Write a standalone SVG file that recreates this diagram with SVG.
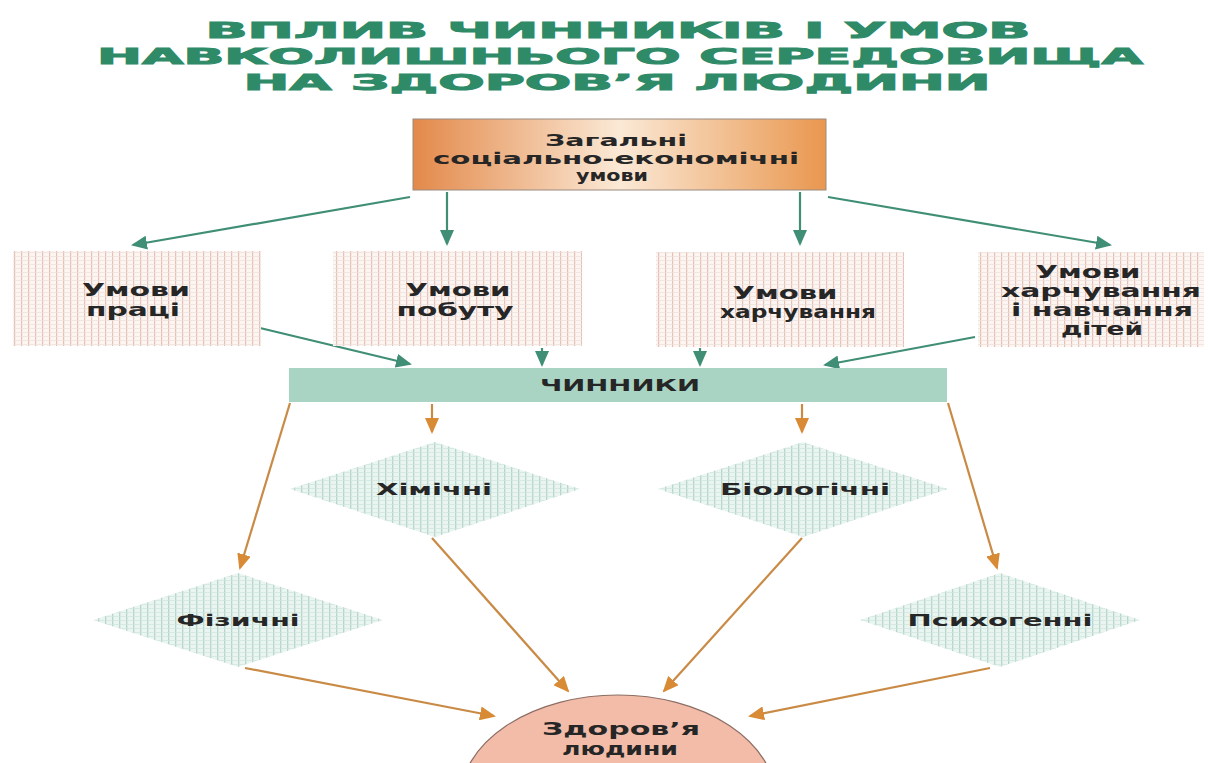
<svg xmlns="http://www.w3.org/2000/svg" width="1208" height="763" viewBox="0 0 1208 763">
  <style>
    .title { font-family: "DejaVu Sans", "Liberation Sans", sans-serif; font-weight: bold; font-size: 22px; fill: #2f8a68; stroke: #2f8a68; stroke-width: 1; text-anchor: middle; }
    .lbl { font-family: "DejaVu Sans", "Liberation Sans", sans-serif; font-weight: bold; fill: #262626; text-anchor: middle; }
    .top { font-size: 15px; }
    .box { font-size: 17px; }
    .dia { font-size: 16px; }
    .g { stroke: #3f8e75; stroke-width: 2.2; fill: none; marker-end: url(#headG); }
    .o { stroke: #c98a45; stroke-width: 2.2; fill: none; marker-end: url(#headO); }
  </style>
  <defs>
    <marker id="headG" markerUnits="userSpaceOnUse" markerWidth="16" markerHeight="14" refX="14" refY="7" orient="auto">
      <path d="M0,0 L16,7 L0,14 z" fill="#3f8e75"/>
    </marker>
    <marker id="headO" markerUnits="userSpaceOnUse" markerWidth="16" markerHeight="14" refX="14" refY="7" orient="auto">
      <path d="M0,0 L16,7 L0,14 z" fill="#d88a35"/>
    </marker>
    <linearGradient id="orangeGrad" x1="0" y1="0" x2="1" y2="0">
      <stop offset="0" stop-color="#e3894a"/>
      <stop offset="0.5" stop-color="#fbe9d6"/>
      <stop offset="1" stop-color="#e9974f"/>
    </linearGradient>
    <pattern id="pinkGrid" width="7" height="4" patternUnits="userSpaceOnUse">
      <rect width="7" height="4" fill="#fcf5f2"/>
      <rect width="1.2" height="4" fill="#e8bfb5"/>
      <rect width="7" height="0.7" fill="#ebe0dc"/>
    </pattern>
    <pattern id="tealGrid" width="7" height="4" patternUnits="userSpaceOnUse">
      <rect width="7" height="4" fill="#eaf5f1"/>
      <rect width="1.3" height="4" fill="#b6d6ca"/>
      <rect width="7" height="0.7" fill="#cfe5dd"/>
    </pattern>
  </defs>

  <!-- heading -->
  <g id="title">
    <text class="title" x="618" y="38" textLength="825" lengthAdjust="spacingAndGlyphs">ВПЛИВ ЧИННИКІВ І УМОВ</text>
    <text class="title" x="620" y="64" textLength="1046" lengthAdjust="spacingAndGlyphs">НАВКОЛИШНЬОГО СЕРЕДОВИЩА</text>
    <text class="title" x="617" y="90" textLength="747" lengthAdjust="spacingAndGlyphs">НА ЗДОРОВ’Я ЛЮДИНИ</text>
  </g>

  <!-- connectors -->
  <g id="connectors">
    <line class="g" x1="410" y1="197" x2="133" y2="245"/>
    <line class="g" x1="447" y1="192" x2="447" y2="244"/>
    <line class="g" x1="800" y1="192" x2="800" y2="244"/>
    <line class="g" x1="828" y1="197" x2="1110" y2="245"/>
    <line class="g" x1="260" y1="328" x2="410" y2="364"/>
    <line class="g" x1="542" y1="348" x2="542" y2="365"/>
    <line class="g" x1="700" y1="348" x2="700" y2="365"/>
    <line class="g" x1="975" y1="337" x2="825" y2="365"/>
    <line class="o" x1="432" y1="404" x2="432" y2="432"/>
    <line class="o" x1="802" y1="404" x2="802" y2="432"/>
    <line class="o" x1="290" y1="403" x2="240" y2="568"/>
    <line class="o" x1="948" y1="403" x2="997" y2="568"/>
    <line class="o" x1="432" y1="538" x2="568" y2="691"/>
    <line class="o" x1="802" y1="538" x2="664" y2="691"/>
    <line class="o" x1="245" y1="668" x2="494" y2="716"/>
    <line class="o" x1="990" y1="668" x2="750" y2="716"/>
  </g>

  <g id="general">
    <rect x="413" y="119" width="413" height="71" fill="url(#orangeGrad)" stroke="#9a8a80" stroke-width="1"/>
    <text class="lbl top" x="616" y="146" textLength="142" lengthAdjust="spacingAndGlyphs">Загальні</text>
    <text class="lbl top" x="616" y="164" textLength="366" lengthAdjust="spacingAndGlyphs">соціально-економічні</text>
    <text class="lbl top" x="612" y="181" textLength="72" lengthAdjust="spacingAndGlyphs">умови</text>
  </g>

  <g id="work">
    <rect x="13" y="251" width="248" height="95" fill="url(#pinkGrid)"/>
    <text class="lbl box" x="136" y="296" textLength="108" lengthAdjust="spacingAndGlyphs">Умови</text>
    <text class="lbl box" x="133" y="316" textLength="94" lengthAdjust="spacingAndGlyphs">праці</text>
  </g>

  <g id="household">
    <rect x="333" y="251" width="249" height="95" fill="url(#pinkGrid)"/>
    <text class="lbl box" x="458" y="296" textLength="105" lengthAdjust="spacingAndGlyphs">Умови</text>
    <text class="lbl box" x="455" y="316" textLength="117" lengthAdjust="spacingAndGlyphs">побуту</text>
  </g>

  <g id="nutrition">
    <rect x="656" y="252" width="248" height="95" fill="url(#pinkGrid)"/>
    <text class="lbl box" x="785" y="299" textLength="105" lengthAdjust="spacingAndGlyphs">Умови</text>
    <text class="lbl box" x="798" y="318" textLength="156" lengthAdjust="spacingAndGlyphs">харчування</text>
  </g>

  <g id="children">
    <rect x="978" y="252" width="226" height="95" fill="url(#pinkGrid)"/>
    <text class="lbl box" x="1088" y="278" textLength="105" lengthAdjust="spacingAndGlyphs">Умови</text>
    <text class="lbl box" x="1101" y="297" textLength="200" lengthAdjust="spacingAndGlyphs">харчування</text>
    <text class="lbl box" x="1102" y="316" textLength="182" lengthAdjust="spacingAndGlyphs">і навчання</text>
    <text class="lbl box" x="1102" y="335" textLength="82" lengthAdjust="spacingAndGlyphs">дітей</text>
  </g>

  <g id="factors">
    <rect x="289" y="368" width="658" height="34" fill="#a9d4c3"/>
    <text class="lbl dia" x="620" y="391" textLength="160" lengthAdjust="spacingAndGlyphs">ЧИННИКИ</text>
  </g>

  <g id="chemical">
    <polygon points="290,489 435,442 580,489 435,537" fill="url(#tealGrid)"/>
    <text class="lbl dia" x="434" y="495" textLength="116" lengthAdjust="spacingAndGlyphs">Хімічні</text>
  </g>

  <g id="biological">
    <polygon points="658,489 803,442 948,489 803,537" fill="url(#tealGrid)"/>
    <text class="lbl dia" x="805" y="495" textLength="170" lengthAdjust="spacingAndGlyphs">Біологічні</text>
  </g>

  <g id="physical">
    <polygon points="93,620 238,573 383,620 238,667" fill="url(#tealGrid)"/>
    <text class="lbl dia" x="238" y="626" textLength="123" lengthAdjust="spacingAndGlyphs">Фізичні</text>
  </g>

  <g id="psychogenic">
    <polygon points="860,620 1000,573 1140,620 1000,667" fill="url(#tealGrid)"/>
    <text class="lbl dia" x="1000" y="626" textLength="185" lengthAdjust="spacingAndGlyphs">Психогенні</text>
  </g>

  <g id="health">
    <ellipse cx="618" cy="800" rx="158" ry="105" fill="#f2bca8" stroke="#8c6e64" stroke-width="1.2"/>
    <text class="lbl box" x="621" y="735" textLength="158" lengthAdjust="spacingAndGlyphs">Здоров’я</text>
    <text class="lbl box" x="620" y="755" textLength="116" lengthAdjust="spacingAndGlyphs">людини</text>
  </g>
</svg>
